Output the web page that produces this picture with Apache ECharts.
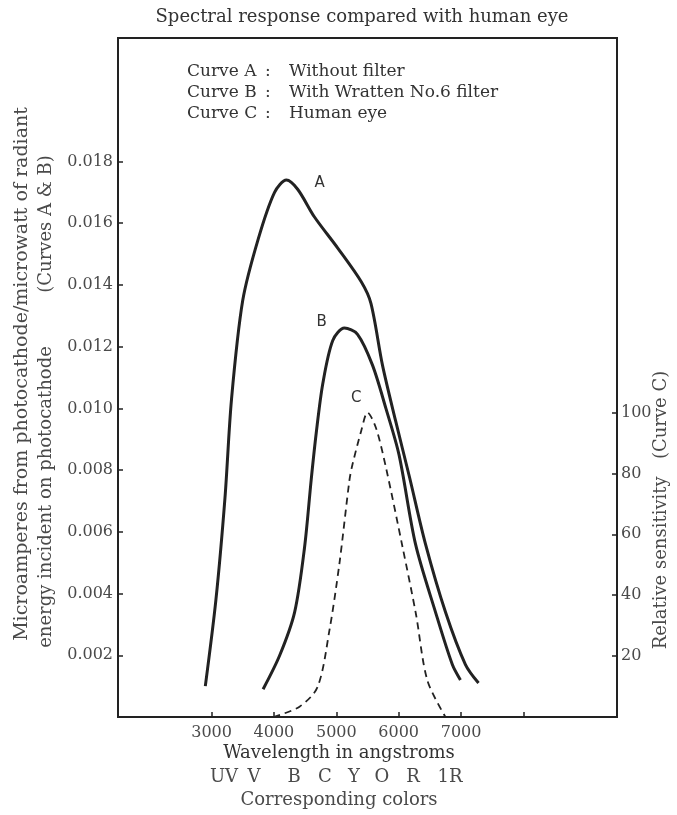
<!DOCTYPE html>
<html><head><meta charset="utf-8">
<script src="https://cdn.jsdelivr.net/npm/echarts@6/dist/echarts.min.js"></script>
<style>html,body{margin:0;padding:0;background:#fff}#c{width:677px;height:815px}</style>
</head><body><div id="c"></div>
<script>
// ---- data ----
const wavelengthA = [2900, 3070, 3215, 3320, 3500, 3750, 4010, 4200, 4380, 4650, 5020, 5400, 5555, 5740, 5950, 6170, 6430, 6750, 7070, 7280];
const responseA   = [0.0010, 0.0038, 0.0071, 0.0103, 0.0135, 0.0155, 0.0170, 0.0174, 0.0171, 0.0162, 0.0152, 0.0141, 0.0134, 0.0114, 0.0096, 0.0078, 0.0056, 0.0034, 0.0017, 0.0011];
const wavelengthB = [3826, 4093, 4332, 4491, 4598, 4678, 4783, 4943, 5130, 5340, 5580, 5795, 6005, 6270, 6590, 6860, 6990];
const responseB   = [0.0009, 0.0020, 0.0034, 0.0055, 0.0077, 0.0092, 0.0108, 0.0122, 0.0126, 0.0124, 0.0114, 0.0100, 0.0085, 0.0056, 0.0034, 0.0017, 0.0012];
const wavelengthC = [3990, 4410, 4700, 4890, 5050, 5210, 5260, 5400, 5500, 5635, 5795, 6060, 6275, 6460, 6750];
const sensitivityC = [0, 3.4, 9.9, 28.5, 50.4, 77.7, 83, 94, 100, 95, 82, 56, 34, 12, 0];
const xTicks = [3000, 4000, 5000, 6000, 7000, 8000];
const xTickLabels = [3000, 4000, 5000, 6000, 7000];
const leftTicks = [0.002, 0.004, 0.006, 0.008, 0.010, 0.012, 0.014, 0.016, 0.018];
const rightTicks = [20, 40, 60, 80, 100];
const curveNames = ['A', 'B', 'C'];
const labelA = [4731, 0.0173];
const labelB = [4764, 0.0128];
const labelC = [5320, 104.6];
const legendKeys = ['Curve A', 'Curve B', 'Curve C'];
const legendTexts = ['Without filter', 'With Wratten No.6 filter', 'Human eye'];
const colorLetters = ['UV', 'V', 'B', 'C', 'Y', 'O', 'R', '1R'];

// ---- layout (pixels) ----
const colorLetterX = [224, 254, 294, 325, 354, 382, 413, 450];

const zip = (xs, ys) => xs.map((x, i) => [x, ys[i]]);
const serif = 'DejaVu Serif';
const ink = '#222';
const gray = '#4a4a4a';

const chart = echarts.init(document.getElementById('c'), null, {renderer: 'canvas'});
const tickStyle = {show: true, inside: true, length: 5, lineStyle: {color: ink, width: 1.5}};
const labelStyle = {color: gray, fontFamily: serif, fontSize: 16};

function curveLabel(coord, txt) {
  return {
    symbol: 'circle', symbolSize: 1, itemStyle: {color: 'rgba(0,0,0,0)'},
    label: {show: true, position: 'inside', color: '#333', fontFamily: 'DejaVu Sans', fontSize: 15, formatter: txt},
    data: [{coord: coord}]
  };
}

const f18 = '18px "DejaVu Serif"';
const graphics = [
  {type: 'text', x: 362, y: 17, style: {text: 'Spectral response compared with human eye', font: f18, fill: '#333', textAlign: 'center', textVerticalAlign: 'middle'}},
  {type: 'text', x: 22, y: 374, rotation: Math.PI / 2, style: {text: 'Microamperes from photocathode/microwatt of radiant', font: '19px "DejaVu Serif"', fill: gray, textAlign: 'center', textVerticalAlign: 'middle'}},
  {type: 'text', x: 46, y: 497, rotation: Math.PI / 2, style: {text: 'energy incident on photocathode', font: f18, fill: gray, textAlign: 'center', textVerticalAlign: 'middle'}},
  {type: 'text', x: 46, y: 224, rotation: Math.PI / 2, style: {text: '(Curves A & B)', font: f18, fill: gray, textAlign: 'center', textVerticalAlign: 'middle'}},
  {type: 'text', x: 661, y: 510, rotation: Math.PI / 2, style: {text: 'Relative sensitivity   (Curve C)', font: f18, fill: gray, textAlign: 'center', textVerticalAlign: 'middle'}},
  {type: 'text', x: 339, y: 753, style: {text: 'Wavelength in angstroms', font: f18, fill: '#333', textAlign: 'center', textVerticalAlign: 'middle'}},
  {type: 'text', x: 339, y: 800, style: {text: 'Corresponding colors', font: f18, fill: gray, textAlign: 'center', textVerticalAlign: 'middle'}}
];
colorLetters.forEach((t, i) => {
  graphics.push({type: 'text', x: colorLetterX[i], y: 777, style: {text: t, font: f18, fill: gray, textAlign: 'center', textVerticalAlign: 'middle'}});
});
legendKeys.forEach((k, i) => {
  const y = 72 + i * 21;
  graphics.push({type: 'text', x: 187, y: y, style: {text: k, font: '17px "DejaVu Serif"', fill: '#333', textVerticalAlign: 'middle'}});
  graphics.push({type: 'text', x: 265, y: y, style: {text: ':', font: '17px "DejaVu Serif"', fill: '#333', textVerticalAlign: 'middle'}});
  graphics.push({type: 'text', x: 289, y: y, style: {text: legendTexts[i], font: '17px "DejaVu Serif"', fill: '#333', textVerticalAlign: 'middle'}});
});

const lineCommon = {type: 'line', smooth: 0.3, showSymbol: false};

chart.setOption({
  backgroundColor: '#fff',
  animation: false,
  grid: {left: 118, right: 60, top: 38, bottom: 98, show: true, borderColor: ink, borderWidth: 2, backgroundColor: '#fff'},
  xAxis: {
    type: 'value', min: 1500, max: 9500,
    axisLine: {show: false},
    axisTick: Object.assign({customValues: xTicks}, tickStyle),
    axisLabel: Object.assign({customValues: xTickLabels, margin: 8, formatter: v => String(v)}, labelStyle),
    splitLine: {show: false}
  },
  yAxis: [{
    type: 'value', min: 0, max: 0.022, position: 'left',
    axisLine: {show: false},
    axisTick: Object.assign({customValues: leftTicks}, tickStyle),
    axisLabel: Object.assign({customValues: leftTicks, margin: 5, formatter: v => v.toFixed(3)}, labelStyle),
    splitLine: {show: false}
  }, {
    type: 'value', min: 0, max: 223, position: 'right',
    axisLine: {show: false},
    axisTick: Object.assign({customValues: rightTicks}, tickStyle),
    axisLabel: Object.assign({customValues: rightTicks, margin: 4, formatter: v => String(v)}, labelStyle),
    splitLine: {show: false}
  }],
  graphic: graphics,
  series: [Object.assign({
    name: curveNames[0], data: zip(wavelengthA, responseA),
    lineStyle: {color: ink, width: 3}, markPoint: curveLabel(labelA, curveNames[0])
  }, lineCommon), Object.assign({
    name: curveNames[1], data: zip(wavelengthB, responseB),
    lineStyle: {color: ink, width: 3}, markPoint: curveLabel(labelB, curveNames[1])
  }, lineCommon), Object.assign({
    name: curveNames[2], yAxisIndex: 1, data: zip(wavelengthC, sensitivityC),
    lineStyle: {color: ink, width: 1.8, type: [7, 5]}, markPoint: curveLabel(labelC, curveNames[2])
  }, lineCommon)]
});
</script>
</body></html>
